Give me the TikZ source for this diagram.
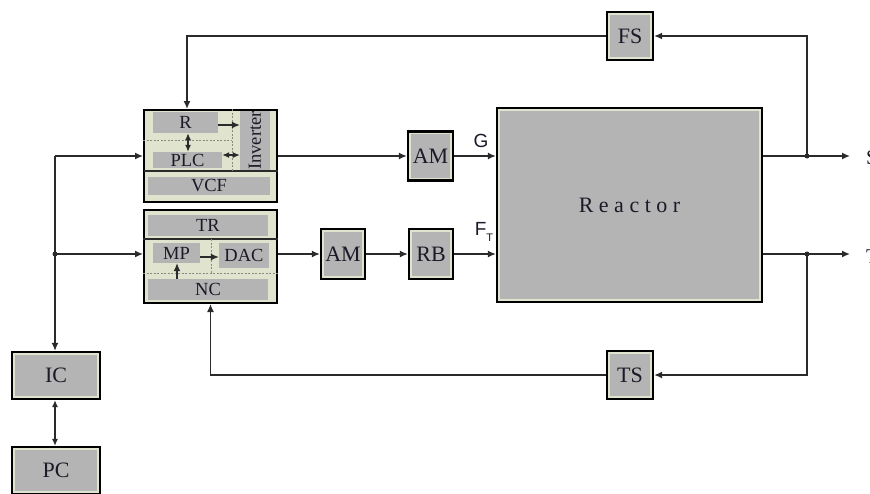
\documentclass[tikz,border=0pt]{standalone}
\usepackage{fontspec}
\setmainfont{Liberation Serif}
\newfontfamily\lblsans{Liberation Sans}
\usetikzlibrary{arrows.meta}
\definecolor{boxgray}{HTML}{B4B4B4}
\definecolor{boxgreen}{HTML}{E0E4CE}
\definecolor{linec}{HTML}{2A2A2A}
\definecolor{txtc}{HTML}{1A1A28}
\definecolor{dashc}{HTML}{8A8A80}
\tikzset{
  blk/.style={draw=black, line width=2.2pt, fill=boxgreen, inner sep=0pt,
    text=txtc, font=\fontsize{22}{22}\selectfont,
    path picture={\fill[boxgray] ([shift={(2.6pt,2.6pt)}]path picture bounding box.south west) rectangle ([shift={(-2.6pt,-2.6pt)}]path picture bounding box.north east);}},
  ctrl/.style={draw=black, line width=2pt, fill=boxgreen, inner sep=0pt},
  sub/.style={fill=boxgray, inner sep=0pt, text=txtc, font=\fontsize{18.5}{18.5}\selectfont},
  conn/.style={draw=linec, line width=1.5pt},
  arr/.style={conn, -{Latex[length=8pt,width=7pt]}},
  darr/.style={conn, {Latex[length=7pt,width=6pt]}-{Latex[length=7pt,width=6pt]}},
  dsh/.style={draw=dashc, line width=0.8pt, dashed, dash pattern=on 2pt off 1.5pt},
  jdot/.style={circle, fill=linec, inner sep=0pt, minimum size=5pt},
  sans/.style={font=\lblsans\fontsize{19}{19}\selectfont, text=txtc, inner sep=0pt},
}
\begin{document}
\begin{tikzpicture}[x=1pt,y=-1pt]
\useasboundingbox (0,0) rectangle (870,493);
% control box A
\node[ctrl, minimum width=133pt, minimum height=92pt] (ctrlA) at (210.5,156) {};
\node[sub, minimum width=65pt, minimum height=21pt] (R) at (185.5,122.5) {R};
\node[sub, minimum width=69pt, minimum height=16pt] (PLC) at (187.5,160) {PLC};
\node[sub, minimum width=30pt, minimum height=57pt] (INV) at (255,140.5) {\rotatebox{90}{Inverter}};
\node[sub, minimum width=122pt, minimum height=18pt] (VCF) at (209,186) {VCF};
\coordinate (sepA) at (144,171);
\draw[conn] (sepA) -- (sepA -| ctrlA.east);
\draw[dsh] (ctrlA.west |- 0,140) -- (232,140);
\draw[dsh] (ctrlA.north -| 232,0) -- (232,171);
\draw[arr, line width=1.2pt] (R.east |- 0,125) -- (INV.west |- 0,125);
\draw[darr, line width=1.2pt] (R.south -| 188,0) -- (PLC.north -| 188,0);
\draw[darr, line width=1.2pt] (PLC.east |- 0,155) -- (INV.west |- 0,155);
% control box B
\node[ctrl, minimum width=133pt, minimum height=93pt] (ctrlB) at (210.5,256.5) {};
\node[sub, minimum width=120pt, minimum height=21pt] (TR) at (208,225.5) {TR};
\node[sub, minimum width=47pt, minimum height=20pt] (MP) at (176.5,253) {MP};
\node[sub, minimum width=50pt, minimum height=25pt] (DAC) at (244,255.5) {DAC};
\node[sub, minimum width=120pt, minimum height=21pt] (NC) at (208,289.5) {NC};
\draw[conn] (ctrlB.west |- 0,239) -- (ctrlB.east |- 0,239);
\draw[dsh] (211,239) -- (211,273);
\draw[dsh] (ctrlB.west |- 0,273) -- (ctrlB.east |- 0,273);
\draw[arr, line width=1.2pt] (MP.east |- 0,257) -- (DAC.west |- 0,257);
\draw[arr, line width=1.2pt] (NC.north -| 177,0) -- (MP.south -| 177,0);
% blocks
\node[blk, minimum width=45pt, minimum height=49pt] (AM1) at (430.5,156) {AM};
\node[blk, minimum width=44pt, minimum height=50pt] (AM2) at (343,254) {AM};
\node[blk, minimum width=44pt, minimum height=50pt] (RB) at (431,254) {RB};
\node[blk, minimum width=46pt, minimum height=48pt] (FS) at (630,36) {FS};
\node[blk, minimum width=46pt, minimum height=48pt] (TS) at (630,375) {TS};
\node[blk, minimum width=88pt, minimum height=47pt] (IC) at (56,375.5) {IC};
\node[blk, minimum width=88pt, minimum height=47pt] (PC) at (56,470.5) {PC};
\node[blk, minimum width=265pt, minimum height=194pt] (RE) at (629.5,205)
  {R\hspace{5.5pt}e\hspace{5.5pt}a\hspace{5.5pt}c\hspace{5.5pt}t\hspace{5.5pt}o\hspace{5.5pt}r};
% left bus
\coordinate (busTop) at (55,156);
\coordinate (busMid) at (55,254);
\draw[arr] (busTop) -- (ctrlA.west);
\draw[arr] (busTop) -- (busTop |- IC.north);
\draw[arr] (busMid) -- (busMid -| ctrlB.west);
\node[jdot] (dMid) at (busMid) {};
\draw[darr] (IC.south -| busTop) -- (PC.north -| busTop);
% forward paths
\draw[arr] (ctrlA.east) -- (AM1.west);
\draw[arr] (AM1.east) -- (RE.west |- AM1.east);
\draw[arr] (busMid -| ctrlB.east) -- (AM2.west);
\draw[arr] (AM2.east) -- (RB.west);
\draw[arr] (RB.east) -- (RE.west |- RB.east);
\node[sans] (Glab) at (481,141) {G};
\node[sans] (Flab) at (484,232) {F\raisebox{-6pt}{\fontsize{11}{11}\selectfont T}};
% outputs
\coordinate (jS) at (807,156);
\coordinate (jT) at (807,254);
\coordinate (outS) at (850,156);
\coordinate (outT) at (850,254);
\draw[arr] (RE.east |- jS) -- (outS);
\draw[arr] (RE.east |- jT) -- (outT);
\node[jdot] (dS) at (jS) {};
\node[jdot] (dT) at (jT) {};
\node[anchor=west, inner sep=0pt, font=\fontsize{21}{21}\selectfont, text=txtc] (Slab) at (866,158) {S};
\node[anchor=west, inner sep=0pt, font=\fontsize{21}{21}\selectfont, text=txtc] (Tlab) at (866,257) {T};
% feedback
\draw[arr] (jS) |- (FS.east);
\coordinate (fbA) at (187,36);
\draw[arr] (FS.west) -- (fbA) -- (fbA |- ctrlA.north);
\draw[arr] (jT) |- (TS.east);
\draw[arr] (TS.west) -| (ctrlB.south);
\end{tikzpicture}
\end{document}
